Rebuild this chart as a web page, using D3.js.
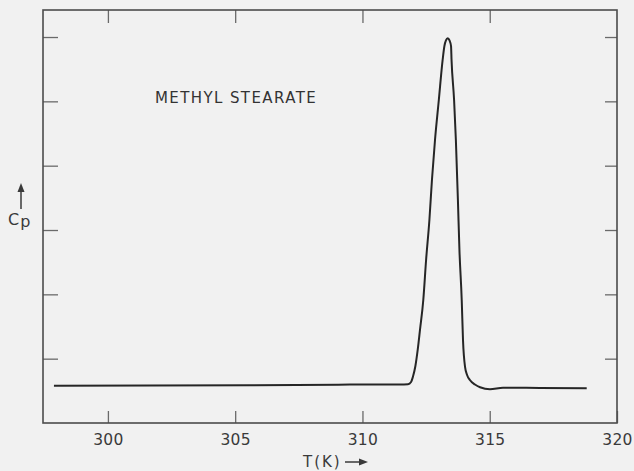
<!DOCTYPE html>
<html>
<head>
<meta charset="utf-8">
<script src="https://cdn.jsdelivr.net/npm/d3@7"></script>
<style>
  html, body { margin: 0; padding: 0; background: #f1f1f1; }
  svg { display: block; }
</style>
</head>
<body>
<svg id="chart" width="634" height="471"></svg>
<script>
// Heat capacity trace of methyl stearate across its melting region
const tempK = [297.88, 301.65, 305.58, 309.51, 311.47, 311.79, 311.91, 311.98, 312.08, 312.17,
  312.26, 312.39, 312.50, 312.63, 312.73, 312.85, 313.00, 313.15, 313.22, 313.28,
  313.35, 313.42, 313.48, 313.50, 313.60, 313.67, 313.75, 313.81, 313.90, 313.95,
  314.03, 314.11, 314.22, 314.42, 314.62, 315.01, 315.52, 316.97, 318.81];
const cp = [0.580, 0.581, 0.588, 0.597, 0.598, 0.603, 0.637, 0.715, 0.886, 1.135,
  1.446, 1.912, 2.534, 3.156, 3.777, 4.399, 5.021, 5.643, 5.860, 5.946,
  5.980, 5.946, 5.860, 5.643, 5.021, 4.399, 3.467, 2.689, 1.912, 1.290,
  0.871, 0.746, 0.668, 0.598, 0.555, 0.524, 0.549, 0.544, 0.539];
const xTicks = [300, 305, 310, 315, 320];
const yTicks = [1, 2, 3, 4, 5, 6];
const title = "METHYL STEARATE";
const xLabel = "T(K)";

const svg = d3.select("#chart");
const frameLeft = 43, frameRight = 617, frameTop = 10, frameBottom = 423;

const x = d3.scaleLinear().domain([297.45, 320]).range([frameLeft, frameRight]);
const y = d3.scaleLinear().domain([0, 6.42]).range([frameBottom, frameTop]);

const font = "'DejaVu Sans', sans-serif";
const tickColor = "#6a6a6a";

function styleAxis(g) {
  g.select(".domain").remove();
  g.selectAll(".tick line").attr("stroke", tickColor).attr("stroke-width", 1.3);
  g.selectAll(".tick text")
    .attr("fill", "#3a3a3a")
    .style("font-family", font)
    .style("font-size", "15.5px")
    .style("letter-spacing", "0.3px");
}

// bottom axis with labels, ticks pointing into the frame
svg.append("g")
  .attr("transform", `translate(0,${frameBottom})`)
  .call(d3.axisBottom(x).tickValues(xTicks).tickSizeInner(-12).tickSizeOuter(0).tickPadding(11))
  .call(styleAxis);

// top axis, ticks only
svg.append("g")
  .attr("transform", `translate(0,${frameTop})`)
  .call(d3.axisTop(x).tickValues(xTicks.slice(0, 4)).tickSizeInner(-13).tickSizeOuter(0).tickFormat(""))
  .call(styleAxis);

// left and right axes, unlabeled ticks
svg.append("g")
  .attr("transform", `translate(${frameLeft},0)`)
  .call(d3.axisLeft(y).tickValues(yTicks).tickSizeInner(-15).tickSizeOuter(0).tickFormat(""))
  .call(styleAxis);

svg.append("g")
  .attr("transform", `translate(${frameRight},0)`)
  .call(d3.axisRight(y).tickValues(yTicks).tickSizeInner(-12).tickSizeOuter(0).tickFormat(""))
  .call(styleAxis);

// plot frame
svg.append("rect")
  .attr("x", frameLeft).attr("y", frameTop)
  .attr("width", frameRight - frameLeft).attr("height", frameBottom - frameTop)
  .attr("fill", "none")
  .attr("stroke", "#4c4c4c")
  .attr("stroke-width", 1.6);

// Cp curve
const points = tempK.map((t, i) => [t, cp[i]]);
svg.append("path")
  .datum(points)
  .attr("fill", "none")
  .attr("stroke", "#262626")
  .attr("stroke-width", 2)
  .attr("stroke-linejoin", "round")
  .attr("d", d3.line().x(d => x(d[0])).y(d => y(d[1])).curve(d3.curveMonotoneX));

// compound name
svg.append("text")
  .attr("x", 155).attr("y", 103)
  .attr("fill", "#333")
  .style("font-family", font)
  .style("font-size", "15px")
  .style("letter-spacing", "1.4px")
  .text(title);

// x-axis label with arrow
svg.append("text")
  .attr("x", 303).attr("y", 467)
  .attr("fill", "#3a3a3a")
  .style("font-family", font)
  .style("font-size", "15px")
  .style("letter-spacing", "2px")
  .text(xLabel);
svg.append("line")
  .attr("x1", 345).attr("y1", 462).attr("x2", 361).attr("y2", 462)
  .attr("stroke", "#3a3a3a").attr("stroke-width", 1.5);
svg.append("path")
  .attr("d", "M359,458.5 L368,462 L359,465.5 Z")
  .attr("fill", "#3a3a3a");

// y-axis label: arrow over Cp
svg.append("line")
  .attr("x1", 21).attr("y1", 190).attr("x2", 21).attr("y2", 209)
  .attr("stroke", "#3a3a3a").attr("stroke-width", 1.5);
svg.append("path")
  .attr("d", "M17.5,192 L21,183 L24.5,192 Z")
  .attr("fill", "#3a3a3a");
const cpLabel = svg.append("text")
  .attr("x", 8).attr("y", 225)
  .attr("fill", "#3a3a3a")
  .style("font-family", font)
  .style("font-size", "16px");
cpLabel.append("tspan").text("C");
cpLabel.append("tspan").attr("dx", 1).attr("dy", 2).text("p");
</script>
</body>
</html>
